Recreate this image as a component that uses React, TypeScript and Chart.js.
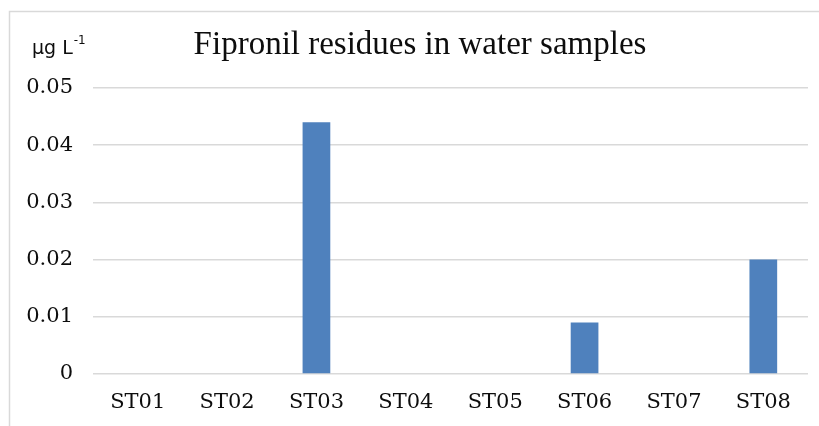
import React, { useEffect, useRef } from "react";
import { Chart, registerables } from "chart.js";

Chart.register(...registerables);

const categories = ["ST01", "ST02", "ST03", "ST04", "ST05", "ST06", "ST07", "ST08"];
const residues = [0, 0, 0.044, 0, 0, 0.009, 0, 0.02];
const titleText = "Fipronil residues in water samples";
const unitText = "µg L";
const unitSup = "-1";

const decorPlugin = {
  id: "decor",
  beforeDraw(chart: any) {
    const ctx = chart.ctx;
    ctx.save();
    ctx.fillStyle = "#ffffff";
    ctx.fillRect(0, 0, chart.width, chart.height);
    ctx.strokeStyle = "#d9d9d9";
    ctx.lineWidth = 1.5;
    ctx.beginPath();
    ctx.moveTo(9.5, chart.height);
    ctx.lineTo(9.5, 11.5);
    ctx.lineTo(chart.width, 11.5);
    ctx.stroke();
    ctx.restore();
  },
  afterDraw(chart: any) {
    const ctx = chart.ctx;
    ctx.save();
    ctx.fillStyle = "#0d0d0d";
    ctx.textBaseline = "middle";
    ctx.textAlign = "center";
    ctx.font = "33px 'Liberation Serif'";
    ctx.fillText(titleText, 420, 45);
    ctx.textAlign = "left";
    ctx.font = "19px 'DejaVu Sans'";
    ctx.fillText(unitText, 32, 49);
    const w = ctx.measureText(unitText).width;
    ctx.font = "12px 'DejaVu Sans'";
    ctx.fillText(unitSup, 32 + w + 1, 41);
    ctx.restore();
  },
};

export default function App() {
  const ref = useRef<HTMLCanvasElement>(null);
  useEffect(() => {
    if (!ref.current) return;
    const chart = new Chart(ref.current, {
      type: "bar",
      data: {
        labels: categories,
        datasets: [
          {
            data: residues,
            backgroundColor: "#4f81bd",
            borderWidth: 0,
            barPercentage: 0.31,
            categoryPercentage: 1,
          },
        ],
      },
      options: {
        responsive: false,
        animation: false,
        layout: { padding: { top: 88, right: 11, left: 0, bottom: 0 } },
        plugins: { legend: { display: false }, tooltip: { enabled: false }, title: { display: false } },
        scales: {
          x: {
            grid: { display: false, drawTicks: false },
            border: { display: false },
            ticks: {
              color: "#0d0d0d",
              padding: 16,
              font: { family: "'DejaVu Serif'", size: 21 },
            },
            afterFit: (s: any) => {
              s.height = 52;
            },
          },
          y: {
            min: 0,
            max: 0.05,
            grid: { color: "#d9d9d9", lineWidth: 1.5, drawTicks: false },
            border: { display: false },
            ticks: {
              stepSize: 0.01,
              color: "#0d0d0d",
              padding: 20,
              font: { family: "'DejaVu Serif'", size: 21 },
              callback: (v: any) => String(Math.round(Number(v) * 100) / 100),
            },
            afterFit: (s: any) => {
              s.width = 93;
            },
          },
        },
      },
      plugins: [decorPlugin],
    });
    return () => chart.destroy();
  }, []);
  return (
    <div style={{ position: "absolute", left: 0, top: 0, width: 819, height: 426, background: "#fff" }}>
      <canvas ref={ref} width={819} height={426} style={{ width: 819, height: 426, display: "block" }} />
    </div>
  );
}
